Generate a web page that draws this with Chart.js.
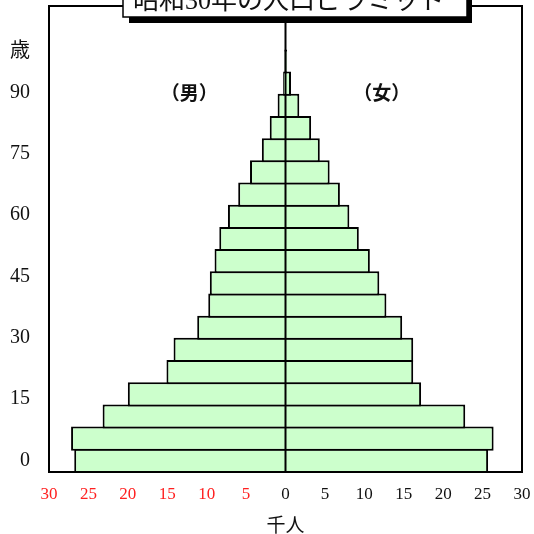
<!DOCTYPE html>
<html>
<head>
<meta charset="utf-8">
<script src="https://cdn.jsdelivr.net/npm/chart.js@4/dist/chart.umd.min.js"></script>
<style>
  html, body { margin: 0; padding: 0; background: #fff; }
  #wrap { width: 534px; height: 534px; }
</style>
</head>
<body>
<div id="wrap"><canvas id="c" width="534" height="534"></canvas></div>
<script>
// ---- data ----
const titleText = '昭和30年の人口ピラミッド';
const maleLabel = '（男）';
const femaleLabel = '（女）';
const xAxisTitle = '千人';
const ageGroups = ['0-4','5-9','10-14','15-19','20-24','25-29','30-34','35-39','40-44','45-49',
                   '50-54','55-59','60-64','65-69','70-74','75-79','80-84','85-89','90-94','95-99','100-'];
const maleValues   = [26.8, 27.2, 23.2, 20.0, 15.1, 14.2, 11.2, 9.8, 9.6, 9.0,
                      8.4, 7.3, 6.0, 4.5, 3.0, 2.0, 1.0, 0.3, 0.15, null, null];
const femaleValues = [25.7, 26.4, 22.8, 17.2, 16.2, 16.2, 14.8, 12.8, 11.9, 10.7,
                      9.3, 8.1, 6.9, 5.6, 4.35, 3.25, 1.75, 0.7, 0.2, null, null];
const xTickValues = [-30, -25, -20, -15, -10, -5, 0, 5, 10, 15, 20, 25, 30];
const ageTickValues = [0, 15, 30, 45, 60, 75, 90, 100];
const ageTickLabels = ['0', '15', '30', '45', '60', '75', '90', '歳'];
const ageAxisMin = -2.86;
const ageAxisMax = 111.2;

const SERIF = '"Liberation Serif", "Noto Sans CJK JP", serif';
const CJK = '"Noto Sans CJK JP", sans-serif';

const decorPlugin = {
  id: 'decor',
  afterDraw(chart) {
    const ctx = chart.ctx;
    const a = chart.chartArea;
    const xs = chart.scales.x;
    const ys = chart.scales.y2;
    ctx.save();
    // center line
    const cx = xs.getPixelForValue(0);
    ctx.strokeStyle = '#000';
    ctx.lineWidth = 2;
    ctx.beginPath();
    ctx.moveTo(cx, a.top);
    ctx.lineTo(cx, a.bottom);
    ctx.stroke();
    // frame
    ctx.lineWidth = 2;
    ctx.strokeRect(a.left, a.top, a.right - a.left, a.bottom - a.top);
    // sex labels
    ctx.fillStyle = '#111';
    ctx.font = 'bold 19px ' + CJK;
    ctx.textAlign = 'center';
    ctx.textBaseline = 'middle';
    const ly = ys.getPixelForValue(90);
    ctx.fillText(maleLabel, xs.getPixelForValue(-12.2), ly);
    ctx.fillText(femaleLabel, xs.getPixelForValue(12.2), ly);
    // title box with shadow
    ctx.fillStyle = '#000';
    ctx.fillRect(129, -20, 343, 43);
    ctx.fillStyle = '#fff';
    ctx.fillRect(123, -20, 344, 37);
    ctx.strokeStyle = '#000';
    ctx.lineWidth = 1.5;
    ctx.strokeRect(123, -20, 344, 37);
    ctx.fillStyle = '#111';
    ctx.font = '26px ' + SERIF;
    ctx.textAlign = 'center';
    ctx.textBaseline = 'alphabetic';
    ctx.fillText(titleText, 289, 9);
    ctx.restore();
  }
};

const barStyle = {
  backgroundColor: '#ccffcc',
  borderColor: '#000',
  borderWidth: 2,
  barPercentage: 1.09,
  categoryPercentage: 1
};

new Chart(document.getElementById('c'), {
  type: 'bar',
  data: {
    labels: ageGroups,
    datasets: [
      Object.assign({ label: '男', data: maleValues.map(v => v == null ? null : -v) }, barStyle),
      Object.assign({ label: '女', data: femaleValues }, barStyle)
    ]
  },
  options: {
    indexAxis: 'y',
    responsive: false,
    animation: false,
    layout: { padding: { top: 6, right: 12, left: 0, bottom: 0 } },
    plugins: { legend: { display: false }, tooltip: { enabled: false }, title: { display: false } },
    scales: {
      x: {
        type: 'linear', min: -30, max: 30, stacked: true, position: 'bottom', bounds: 'data', offset: false,
        afterBuildTicks: s => { s.min = -30; s.max = 30; s.ticks = xTickValues.map(v => ({ value: v })); },
        afterFit: s => { s.height = 62; s.paddingLeft = 0; s.paddingRight = 0; },
        ticks: {
          autoSkip: false, maxRotation: 0, padding: 16,
          callback: v => String(Math.abs(v)),
          color: c => (c.tick && c.tick.value < 0) ? '#ff2020' : '#111',
          font: { family: SERIF, size: 17 }
        },
        grid: { display: true, offset: false, drawOnChartArea: false, drawTicks: true, tickLength: -4, tickColor: '#999', tickWidth: 1 },
        border: { display: false },
        title: { display: true, text: xAxisTitle, color: '#111', padding: { top: 0, bottom: -4 }, font: { family: SERIF, size: 19 } }
      },
      y: { type: 'category', stacked: true, reverse: true, display: false },
      y2: {
        type: 'linear', position: 'left', min: ageAxisMin, max: ageAxisMax, bounds: 'data', offset: false,
        afterBuildTicks: s => {
          s.min = ageAxisMin; s.max = ageAxisMax;
          s.ticks = ageTickValues.map(v => ({ value: v }));
        },
        afterFit: s => { s.width = 49; s.paddingTop = 0; s.paddingBottom = 0; },
        ticks: {
          autoSkip: false, padding: 19, color: '#111',
          callback: (v) => ageTickLabels[ageTickValues.indexOf(v)],
          font: { family: SERIF, size: 20 }
        },
        grid: { display: false, offset: false, drawTicks: false },
        border: { display: false }
      }
    }
  },
  plugins: [decorPlugin]
});
</script>
</body>
</html>
